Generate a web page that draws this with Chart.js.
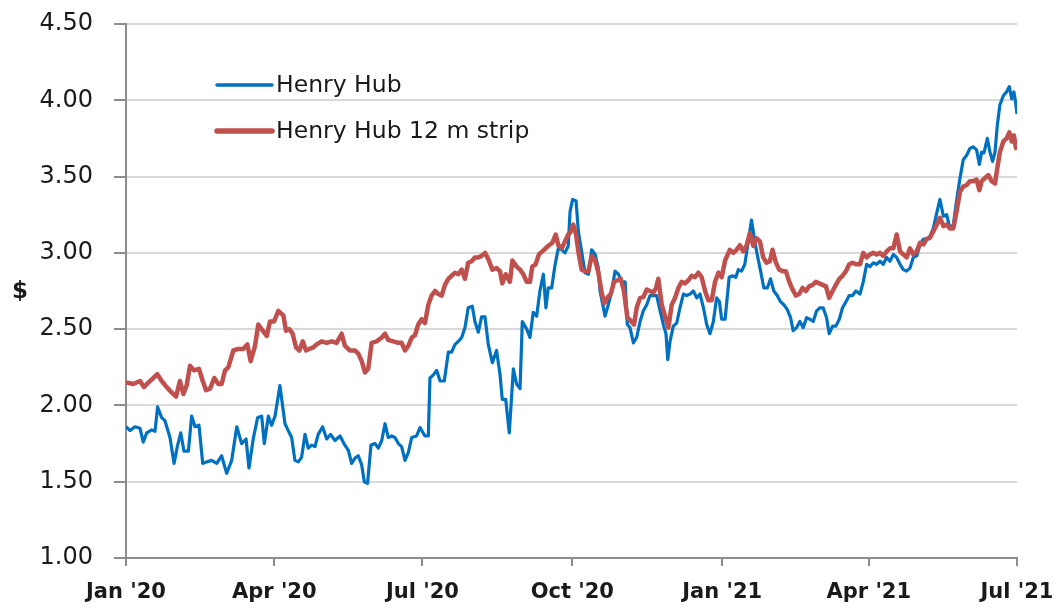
<!DOCTYPE html>
<html>
<head>
<meta charset="utf-8">
<script src="https://cdn.jsdelivr.net/npm/chart.js@4.4.1/dist/chart.umd.min.js"></script>
<style>
html,body{margin:0;padding:0;background:#fff;}
#wrap{width:1056px;height:609px;position:relative;}
</style>
</head>
<body>
<div id="wrap"><canvas id="c" width="1056" height="609"></canvas></div>
<script>
// x values: days since 1 Jan 2020
const tickDays = [0, 91, 182, 274, 366, 456, 547];
const tickLabels = ["Jan '20", "Apr '20", "Jul '20", "Oct '20", "Jan '21", "Apr '21", "Jul '21"];
const yTicks = [1.0, 1.5, 2.0, 2.5, 3.0, 3.5, 4.0, 4.5];
const seriesNames = ["Henry Hub", "Henry Hub 12 m strip"];

const hubDays = [0,2.5,5.5,8.6,10.6,12.7,15.8,17.8,19.4,21.9,23.9,27,29.5,31.5,33.6,35.6,38.3,40.3,42.4,44.8,47.1,49.5,52.6,55.7,58.7,61.8,64.9,68,71,73.7,75.5,78.1,80.8,83.3,84.9,87.4,89.4,91.5,94.5,
97.6,99.6,101.7,103.7,105.8,107.8,109.9,111.9,114,116,118,120.7,123.2,125.6,128.3,131.4,133.8,136.5,138.5,140.6,142.6,144.7,146.3,148.3,150.4,152.9,154.9,157,159,161,163.1,165.1,167.2,169.2,171.3,173.3,175.4,178.4,180.5,
183.5,185.6,186.6,188.7,190.7,192.8,195.4,197.9,199.9,202,204,206.1,208.1,210.1,212.6,214.2,216.3,218.3,220.4,222.4,224.9,227.5,229.6,231,233.1,235.3,237.8,239.8,241.9,243.3,246,248,250,252.1,254.1,256.2,257.8,259.2,261.3,263.4,265.4,267.5,269.5,271.5,
272.6,274.2,276.3,277.7,279.7,281.8,283.9,285.9,288,290,291,292.7,294.1,296.1,298.2,300.2,302.3,304.3,306.4,307.8,309.4,311.5,313.5,315.6,317.6,319.7,321.7,323.8,325.8,327.9,329.9,331.5,332.6,334,336,338.1,340.1,342.2,344.2,346.3,348.3,350.4,352.4,354.5,356.5,358.5,360.6,362.6,364.3,365.7,367.8,
370.3,372.4,374.4,375.9,377.9,379.9,382,384,385.7,387.5,389.6,391.6,393.7,395.7,397.7,399.8,401.8,403.9,405.9,408,409.6,411.7,413.7,415.8,417.8,419.9,421.9,424,426,428,430.1,431.7,433.8,435.8,437.9,439.9,442,444,446,448.1,
450.6,452.6,454.7,456.7,458.8,460.8,462.9,464.9,467,469,471.1,473.1,475.2,477.2,479.2,481.3,483.3,485.4,487.4,489.5,491.5,493.6,495.6,497.7,499.7,501.8,503.8,505.8,507.9,509.9,512,514,516.1,518.1,520.2,522.2,523.9,525.3,526.7,528.8,530.4,532,533.5,534.9,536.5,538.6,540.6,542.3,543.7,545.1,546.2,547];
const hubPrice = [1.86,1.835,1.86,1.85,1.76,1.82,1.84,1.83,1.99,1.92,1.90,1.79,1.62,1.73,1.82,1.70,1.70,1.93,1.86,1.87,1.62,1.63,1.64,1.62,1.67,1.555,1.64,1.86,1.75,1.78,1.59,1.78,1.92,1.93,1.75,1.93,1.87,1.93,2.13,
1.88,1.835,1.79,1.64,1.63,1.66,1.81,1.72,1.74,1.73,1.81,1.86,1.78,1.81,1.77,1.80,1.75,1.705,1.62,1.655,1.67,1.61,1.50,1.49,1.74,1.75,1.72,1.77,1.88,1.79,1.80,1.79,1.75,1.73,1.64,1.69,1.79,1.80,1.855,
1.80,1.80,2.18,2.20,2.23,2.16,2.16,2.35,2.35,2.40,2.42,2.445,2.51,2.64,2.65,2.55,2.48,2.58,2.58,2.40,2.28,2.36,2.205,2.04,2.04,1.82,2.24,2.14,2.11,2.55,2.50,2.445,2.61,2.585,2.75,2.86,2.64,2.77,2.77,2.92,3.03,3.02,3.00,3.045,
3.27,3.35,3.34,3.14,3.01,2.87,2.86,3.02,2.99,2.90,2.75,2.66,2.585,2.66,2.75,2.88,2.86,2.81,2.81,2.53,2.51,2.41,2.445,2.55,2.62,2.66,2.72,2.72,2.72,2.62,2.53,2.47,2.30,2.42,2.52,2.54,2.64,2.73,2.72,2.73,2.75,2.705,2.73,2.64,2.53,2.47,2.55,2.705,2.68,2.565,2.565,
2.84,2.85,2.84,2.89,2.88,2.925,3.075,3.215,3.095,2.99,2.88,2.77,2.77,2.83,2.75,2.72,2.68,2.66,2.63,2.575,2.49,2.51,2.55,2.51,2.575,2.565,2.55,2.62,2.64,2.64,2.575,2.47,2.52,2.52,2.565,2.64,2.68,2.72,2.72,2.75,
2.73,2.81,2.925,2.91,2.935,2.925,2.945,2.925,2.97,2.945,2.99,2.97,2.925,2.89,2.88,2.90,2.97,2.98,3.05,3.09,3.09,3.11,3.16,3.26,3.35,3.24,3.25,3.16,3.185,3.34,3.49,3.61,3.64,3.685,3.695,3.675,3.58,3.66,3.655,3.75,3.66,3.60,3.66,3.835,3.97,4.03,4.055,4.09,4.01,4.055,3.98,3.91];

const stripDays = [0,4.5,8.6,11,13.7,16.8,19.2,21.9,25,28,30.7,33.1,35.2,37.2,39.3,41.7,44.8,47.1,49.1,51.6,54.2,56.7,58.7,60.8,62.8,65.9,68.9,72,74.5,76.5,79.2,81.2,83.9,86.4,88.4,90.9,93.5,
96.6,98.2,100.3,102.3,104.4,106.4,108.5,110.5,112.5,115,117,120.1,123.2,126.3,129.3,132.4,134.4,137.5,140.6,142.6,144.7,146.7,148.7,150.8,153.9,157,159,161,164.1,167.2,169.2,171.3,173.3,175.4,177.4,179.4,181.5,
183.5,185.6,187.6,189.7,191.7,193.8,195.8,197.9,199.9,202,204,206.1,208.1,210.1,212.2,214.2,216.3,218.3,220.4,222.4,224.9,227.5,229.6,231,233.1,235.7,237.2,239.8,241.9,243.9,246,248,249.4,251.5,253.5,255.6,257.6,259.7,261.7,263.8,265.4,267.5,269.5,271.5,
272.6,274.6,276.3,277.7,279.7,281.8,283.9,285.9,288,290,292,293.7,295.5,297.6,299.6,301.7,303.7,305.7,307.8,309.8,311.9,313.5,315.6,317.6,319.7,321.7,323.8,325.4,326.8,328.9,330.9,333,335,337.1,339.1,341.1,343.2,345.2,347.3,349.3,351.4,353.4,355.5,357.5,359.6,361.6,363.7,365.7,367.8,
370.7,372.8,374.8,376.9,378.9,381,383,385.1,387.1,389.2,391.2,393.2,395.3,396.9,399,401,403.1,405.1,407.2,409.2,411.3,413.3,415.3,417.4,419.4,421.5,423.5,425.6,427.6,429.7,431.7,433.8,435.8,437.9,439.9,442,444,446,448.1,
450.6,452.6,454.7,456.7,458.8,460.8,462.9,464.9,467,469,471.1,473.1,475.2,477.2,479.2,481.3,483.3,485.4,487.4,489.5,491.5,493.6,495.6,497.7,499.7,501.8,503.8,505.8,507.9,509.9,512,514,516.1,518.1,520.2,522.2,523.9,525.3,527.3,529.4,531.4,533.5,534.9,536.5,538.6,540.6,542.3,543.7,545.1,546.2,547];
const stripPrice = [2.15,2.14,2.16,2.12,2.15,2.18,2.205,2.16,2.12,2.085,2.057,2.16,2.075,2.13,2.26,2.23,2.24,2.16,2.10,2.11,2.18,2.14,2.14,2.23,2.25,2.36,2.37,2.37,2.40,2.29,2.39,2.53,2.49,2.455,2.55,2.55,2.62,
2.59,2.49,2.50,2.47,2.38,2.36,2.42,2.36,2.37,2.38,2.40,2.42,2.41,2.42,2.41,2.47,2.39,2.36,2.36,2.34,2.29,2.216,2.24,2.41,2.42,2.445,2.47,2.43,2.42,2.41,2.41,2.36,2.39,2.445,2.46,2.53,2.565,
2.54,2.66,2.72,2.75,2.73,2.72,2.79,2.83,2.85,2.87,2.86,2.89,2.83,2.935,2.945,2.97,2.97,2.98,3.00,2.96,2.89,2.90,2.88,2.80,2.86,2.81,2.95,2.91,2.89,2.86,2.81,2.81,2.91,2.925,2.99,3.01,3.03,3.05,3.065,3.12,3.05,3.03,3.075,3.12,
3.13,3.185,3.12,3.01,2.89,2.88,2.88,2.98,2.95,2.87,2.74,2.67,2.705,2.73,2.81,2.82,2.83,2.75,2.575,2.555,2.53,2.64,2.705,2.71,2.76,2.75,2.74,2.77,2.83,2.66,2.585,2.51,2.66,2.705,2.77,2.81,2.80,2.82,2.85,2.84,2.87,2.84,2.75,2.69,2.69,2.81,2.87,2.84,2.95,
3.02,3.00,3.02,3.05,3.01,3.05,3.13,3.045,3.095,3.075,2.97,2.935,2.945,3.02,2.935,2.89,2.88,2.88,2.81,2.76,2.72,2.73,2.77,2.75,2.78,2.79,2.81,2.80,2.79,2.78,2.705,2.75,2.79,2.83,2.85,2.88,2.925,2.935,2.925,
2.925,3.00,2.97,2.99,3.00,2.99,3.00,2.98,3.01,3.03,3.03,3.12,3.01,2.99,2.97,3.03,2.99,3.01,3.065,3.055,3.09,3.10,3.14,3.185,3.23,3.175,3.185,3.16,3.16,3.27,3.40,3.435,3.445,3.47,3.47,3.48,3.41,3.47,3.49,3.51,3.47,3.455,3.555,3.66,3.73,3.75,3.79,3.73,3.77,3.695,3.675];

const BLUE = '#0070C0';
const RED = '#C0504D';
const FONT = "'DejaVu Sans', sans-serif";

function pts(xs, ys) { return xs.map((d, i) => ({ x: d, y: ys[i] })); }

const extras = {
  id: 'extras',
  afterDraw(chart) {
    const ctx = chart.ctx;
    ctx.save();
    // y-axis title "$"
    ctx.fillStyle = '#1a1a1a';
    ctx.font = "bold 23px " + FONT;
    ctx.textAlign = 'center';
    ctx.textBaseline = 'middle';
    ctx.fillText('$', 20, 292);
    // legend
    const items = [
      { label: seriesNames[0], color: BLUE, w: 3.5, y: 85 },
      { label: seriesNames[1], color: RED, w: 5.5, y: 131 }
    ];
    ctx.font = "23.5px " + FONT;
    ctx.textAlign = 'left';
    items.forEach(it => {
      ctx.strokeStyle = it.color;
      ctx.lineWidth = it.w;
      ctx.lineCap = 'round';
      ctx.beginPath();
      ctx.moveTo(217, it.y);
      ctx.lineTo(272, it.y);
      ctx.stroke();
      ctx.fillStyle = '#1a1a1a';
      ctx.fillText(it.label, 276, it.y + 1);
    });
    ctx.restore();
  }
};

new Chart(document.getElementById('c'), {
  type: 'line',
  data: {
    datasets: [
      { label: seriesNames[1], data: pts(stripDays, stripPrice), borderColor: RED, borderWidth: 4.5, pointRadius: 0, tension: 0, borderJoinStyle: 'round', order: 0 },
      { label: seriesNames[0], data: pts(hubDays, hubPrice), borderColor: BLUE, borderWidth: 3.2, pointRadius: 0, tension: 0, borderJoinStyle: 'round', order: 1 }
    ]
  },
  options: {
    responsive: false,
    animation: false,
    devicePixelRatio: 1,
    layout: { padding: { left: 0, right: 39, top: 24, bottom: 0 } },
    plugins: { legend: { display: false }, tooltip: { enabled: false } },
    scales: {
      x: {
        type: 'linear',
        min: 0, max: 547,
        afterBuildTicks: s => { s.ticks = tickDays.map(v => ({ value: v })); },
        afterFit: s => { s.height = 51; s.paddingLeft = 0; s.paddingRight = 0; },
        ticks: {
          autoSkip: false, maxRotation: 0, padding: 14,
          color: '#1a1a1a',
          font: { family: FONT, size: 21, weight: 'bold' },
          callback: v => { const i = tickDays.indexOf(v); return i >= 0 ? tickLabels[i] : ''; }
        },
        grid: { drawOnChartArea: false, drawTicks: true, tickLength: 8, tickColor: '#8c8c8c', lineWidth: 2 },
        border: { display: true, color: '#8c8c8c', width: 2 }
      },
      y: {
        min: 1, max: 4.5,
        afterBuildTicks: s => { s.ticks = yTicks.map(v => ({ value: v })); },
        afterFit: s => { s.width = 126; s.paddingTop = 0; s.paddingBottom = 0; },
        ticks: {
          padding: 21,
          color: '#1a1a1a',
          font: { family: FONT, size: 24 },
          callback: v => v.toFixed(2)
        },
        grid: { color: '#d9d9d9', lineWidth: 2, drawTicks: true, tickLength: 12, tickColor: '#8c8c8c' },
        border: { display: true, color: '#8c8c8c', width: 2 }
      }
    }
  },
  plugins: [extras]
});
</script>
</body>
</html>
